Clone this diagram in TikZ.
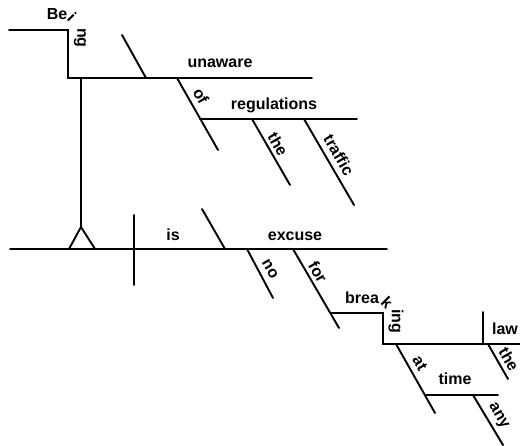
\documentclass[tikz,border=0pt]{standalone}
\usepackage{fontspec}
\setmainfont{Liberation Sans}
\begin{document}
\begin{tikzpicture}[x=1pt,y=-1pt,
  rule/.style={line width=1.9pt,line cap=round,line join=miter},
  lettering/.style={font=\bfseries\fontsize{16}{18}\selectfont,inner sep=0pt},
  word/.style={lettering,anchor=base},
  slant/.style={lettering,rotate=-60},
  turn/.style={lettering}]
\useasboundingbox (0,0) rectangle (520,446);

% subject: participial phrase on a stilt
\draw[rule] (9,30) -- (68,30) -- (68,78) -- (312,78);
\draw[rule] (122,35) -- (146,78);
\node[word] (be) at (57,20) {Be};
\node[turn,rotate=-45] (bi) at (72,17) {i};
\node[turn,rotate=-90] (bng) at (80,38) {ng};
\node[word] (unaware) at (220,68) {unaware};

\draw[rule] (177,78) -- (218,150);
\node[slant] (of) at (201,96) {of};
\draw[rule] (200,119) -- (357,119);
\node[word] (regulations) at (274,110) {regulations};
\draw[rule] (252,119) -- (290,185);
\node[slant] (the1) at (278,144) {the};
\draw[rule] (304,119) -- (354,205);
\node[slant] (traffic) at (339,155) {traffic};

% stilt and its foot
\draw[rule] (81,78) -- (81,227);
\draw[rule] (69,249) -- (81,227) -- (95,249);

% main clause
\draw[rule] (10,249) -- (387,249);
\draw[rule] (134,215) -- (134,285);
\node[word] (is) at (173,241) {is};
\draw[rule] (202,209) -- (225,249);
\node[word] (excuse) at (295,241) {excuse};

\draw[rule] (247,249) -- (273,298);
\node[slant] (no) at (270,269) {no};
\draw[rule] (293,249) -- (339,328);
\node[slant] (for) at (318,272) {for};

% gerund phrase
\draw[rule] (331,313) -- (383,313) -- (383,344) -- (520,344);
\node[word] (brea) at (362,304) {brea};
\node[turn,rotate=-45] (bk) at (387,303) {k};
\node[turn,rotate=-90] (bing) at (396,321) {ing};
\draw[rule] (483,312) -- (483,344);
\node[word] (law) at (505,335) {law};
\draw[rule] (488,344) -- (508,379);
\node[slant] (the2) at (509,359) {the};

\draw[rule] (396,344) -- (435,413);
\node[slant] (at) at (420,363) {at};
\draw[rule] (425,395) -- (498,395);
\node[word] (time) at (455,385) {time};
\draw[rule] (473,395) -- (503,445);
\node[slant] (any) at (498,416) {any};
\end{tikzpicture}
\end{document}
